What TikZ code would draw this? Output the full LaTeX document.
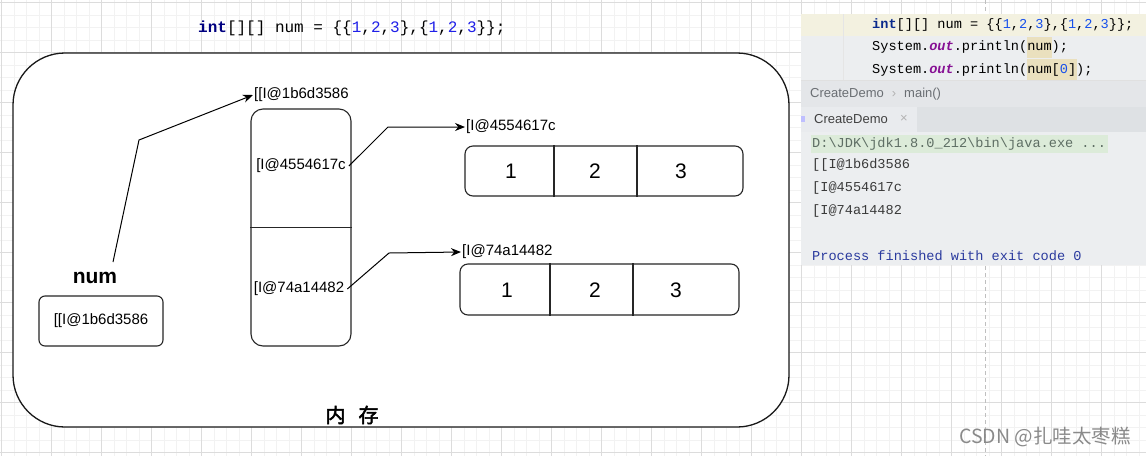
\documentclass[tikz,border=0pt]{standalone}
\usepackage{fontspec}
\setmainfont{Liberation Sans}
\newfontfamily\cjkf{Noto Sans CJK SC}
\newfontfamily\cjkbf[FakeBold=2.5]{Noto Sans CJK SC}
\newfontfamily\monof{Liberation Mono}
\usetikzlibrary{arrows.meta}
\definecolor{gridminor}{HTML}{F2F2F2}
\definecolor{gridmajor}{HTML}{DCDCDC}
\definecolor{kwnavy}{HTML}{000080}
\definecolor{numblue}{HTML}{1F1FE8}
\definecolor{idebg}{HTML}{ECEEF0}
\definecolor{idehl}{HTML}{F3F1E0}
\definecolor{idebar}{HTML}{E4E6E9}
\definecolor{idetabbar}{HTML}{DEE1E4}
\definecolor{idetab}{HTML}{E9EBEE}
\definecolor{idekw}{HTML}{0A2A8C}
\definecolor{idenum}{HTML}{1750EB}
\definecolor{ideout}{HTML}{871094}
\definecolor{idemark}{HTML}{EAE0BE}
\definecolor{idegreen}{HTML}{DCEBD9}
\definecolor{idepath}{HTML}{5E6E64}
\definecolor{ideoutc}{HTML}{3A3A3A}
\definecolor{ideproc}{HTML}{2A3A9E}
\definecolor{idecrumb}{HTML}{6A6E73}
\definecolor{wm}{HTML}{8A8A8A}
\tikzset{
  minorline/.style={draw=gridminor, line width=0.7pt},
  majorline/.style={draw=gridmajor, line width=0.8pt},
  memshape/.style={draw=black!90, line width=1.3pt, fill=white, rounded corners=52pt, inner sep=0pt},
  boxshape/.style={draw=black!85, line width=1.1pt, fill=white, inner sep=0pt},
  lbl/.style={font=\fontsize{15}{18}\selectfont, inner sep=1pt},
  numtxt/.style={font=\fontsize{21}{24}\selectfont, inner sep=0pt},
  ptr/.style={draw=black, line width=1pt, -{Stealth[length=10pt,width=8pt]}},
  codetxt/.style={anchor=west, inner sep=0pt, font=\monof\fontsize{13.6}{16}\selectfont},
}
\begin{document}
\begin{tikzpicture}[x=1pt,y=-1pt]
\useasboundingbox (0,0) rectangle (1146,456);
\fill[white] (0,0) rectangle (1146,456);
% grid
\foreach \i in {0,...,91} \draw[minorline] ({1.7+12.5*\i},0) -- ++(0,456);
\foreach \j in {0,...,36} \draw[minorline] (0,{2.7+12.5*\j}) -- ++(1146,0);
\foreach \i in {0,...,22} \draw[majorline] ({1.7+50*\i},0) -- ++(0,456);
\foreach \j in {0,...,9} \draw[majorline] (0,{2.7+50*\j}) -- ++(1146,0);
\draw[black!25, line width=1pt, dash pattern=on 4pt off 3pt] (985,0) -- (985,456);

% top code line
\node[anchor=west, inner sep=0pt, font=\monof\fontsize{16}{19}\selectfont] (code) at (198,28)
  {\textbf{\textcolor{kwnavy}{int}}[][] num = \{\{\textcolor{numblue}{1},\textcolor{numblue}{2},\textcolor{numblue}{3}\},\{\textcolor{numblue}{1},\textcolor{numblue}{2},\textcolor{numblue}{3}\}\};};

% memory
\node[memshape, minimum width=776pt, minimum height=374pt] (mem) at (401,240) {};
\node[font=\cjkbf\fontsize{20}{24}\selectfont, inner sep=0pt] (memlbl) at (352,415) {内\hspace{13pt}存};

% num variable
\node[font=\bfseries\fontsize{21}{24}\selectfont, inner sep=0pt] (numlbl) at (95,278) {num};
\node[boxshape, rounded corners=6pt, minimum width=124pt, minimum height=50pt, lbl] (numbox) at (101,321) {[[I@1b6d3586};
\coordinate (numtail) at (113,262);
\coordinate (bend0) at (139,140);
\node[lbl, anchor=west] (toplbl) at (253,95) {[[I@1b6d3586};
\draw[ptr] (numtail) -- (bend0) -- (toplbl.west);

% outer array column
\node[boxshape, rounded corners=12pt, minimum width=100pt, minimum height=237pt] (col) at (301,227.5) {};
\draw[black!85, line width=1.1pt] (col.west) -- (col.east);
\node[lbl] (c1) at (301,166) {[I@4554617c};
\node[lbl] (c2) at (299,289) {[I@74a14482};

% inner arrays
\node[lbl, anchor=west] (l1) at (465,127) {[I@4554617c};
\node[lbl, anchor=west] (l2) at (461,252) {[I@74a14482};
\coordinate (bend1) at (388,127);
\coordinate (bend2) at (389,253);
\draw[ptr] ([xshift=2pt]c1.east) -- (bend1) -- (l1.west);
\draw[ptr] ([xshift=2pt]c2.east) -- (bend2) -- (l2.west);

\node[boxshape, rounded corners=8pt, minimum width=278pt, minimum height=50pt] (arr1) at (604,171) {};
\draw[black!85, line width=1.1pt] (arr1.north -| 554,0) -- (arr1.south -| 554,0);
\draw[black!85, line width=1.1pt] (arr1.north -| 637,0) -- (arr1.south -| 637,0);
\node[numtxt] (a11) at (511,171) {1};
\node[numtxt] (a12) at (595,171) {2};
\node[numtxt] (a13) at (681,171) {3};

\node[boxshape, rounded corners=8pt, minimum width=279pt, minimum height=51pt] (arr2) at (599.5,289.5) {};
\draw[black!85, line width=1.1pt] (arr2.north -| 550,0) -- (arr2.south -| 550,0);
\draw[black!85, line width=1.1pt] (arr2.north -| 633,0) -- (arr2.south -| 633,0);
\node[numtxt] (a21) at (507,290) {1};
\node[numtxt] (a22) at (595,290) {2};
\node[numtxt] (a23) at (676,290) {3};

% IDE screenshot
\fill[idebg] (801,14) rectangle (1146,265);
\fill[idehl] (801,14) rectangle (1146,36);
\draw[black!10] (843,14) -- (843,80);
\fill[idemark] (1027,37) rectangle (1052,58);
\fill[idemark] (1027,59) rectangle (1077,80);
\node[codetxt] (ide1) at (872,25) {\textbf{\textcolor{idekw}{int}}[][] num = \{\{\textcolor{idenum}{1},\textcolor{idenum}{2},\textcolor{idenum}{3}\},\{\textcolor{idenum}{1},\textcolor{idenum}{2},\textcolor{idenum}{3}\}\};};
\node[codetxt] (ide2) at (872,47) {System.\textcolor{ideout}{\textbf{\textit{out}}}.println(num);};
\node[codetxt] (ide3) at (872,70) {System.\textcolor{ideout}{\textbf{\textit{out}}}.println(num[\textcolor{idenum}{0}]);};
\fill[idebar] (801,80) rectangle (1146,107);
\draw[black!12] (801,80) -- (1146,80);
\node[anchor=west, inner sep=0pt, text=idecrumb, font=\fontsize{13}{16}\selectfont] (crumb) at (810,94) {CreateDemo\hspace{8pt}\textcolor{black!30}{›}\hspace{8pt}main()};
\fill[idetabbar] (801,107) rectangle (1146,132);
\fill[idetab] (801,107) rectangle (917,132);
\fill[blue!25!white] (801,116) rectangle (805,122);
\node[anchor=west, inner sep=0pt, text=black!75, font=\fontsize{13}{16}\selectfont] (tab) at (814,119) {CreateDemo};
\node[inner sep=0pt, text=black!30, font=\fontsize{13}{16}\selectfont] (tabx) at (904,119) {×};
\fill[idegreen] (811,135) rectangle (1108,153);
\node[codetxt, text=idepath] (o1) at (812,144) {D:\textbackslash JDK\textbackslash jdk1.8.0\_212\textbackslash bin\textbackslash java.exe ...};
\node[codetxt, text=ideoutc] (o2) at (812,165) {[[I@1b6d3586};
\node[codetxt, text=ideoutc] (o3) at (812,188) {[I@4554617c};
\node[codetxt, text=ideoutc] (o4) at (812,211) {[I@74a14482};
\node[codetxt, text=ideproc] (o5) at (812,256) {Process finished with exit code 0};

% watermark
\node[anchor=west, inner sep=0pt, text=wm, font=\cjkf\fontsize{19.5}{22}\selectfont] (wmk) at (959,437) {CSDN @扎哇太枣糕};
\end{tikzpicture}
\end{document}
